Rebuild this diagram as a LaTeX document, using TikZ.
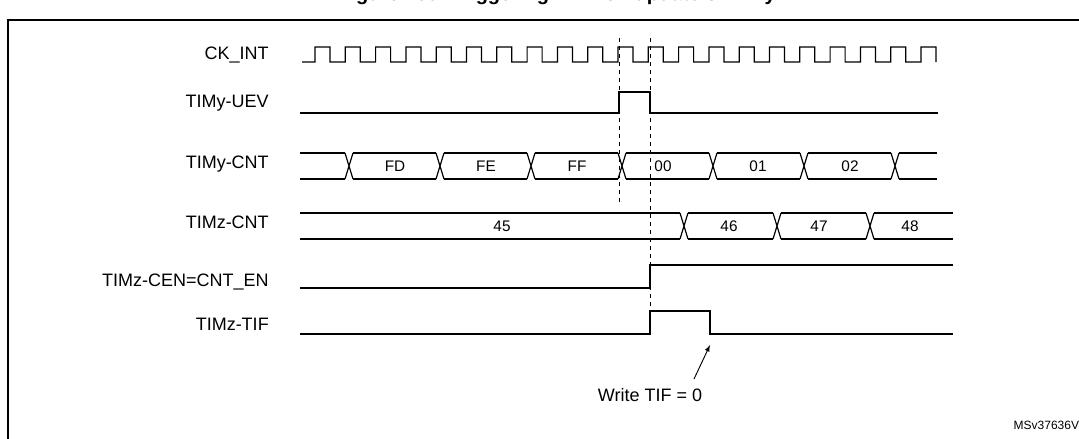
\documentclass[tikz,border=0pt]{standalone}
\usepackage{fontspec}
\setmainfont{Liberation Sans}
\usetikzlibrary{positioning}
\tikzset{
    signode/.style = {draw=none, fill=none, anchor=east, inner sep=0pt, font=\fontsize{13.5}{16}\selectfont},
    busnode/.style = {draw=none, fill=none, inner sep=0pt, font=\fontsize{11.5}{14}\selectfont},
    wave/.style = {black, line width=0.9pt},
    marker/.style = {black, dashed, line width=0.7pt},
    connect/.style = {black, line width=0.7pt, ->, >=latex}
}
\begin{document}
\begin{tikzpicture}[x=0.75pt, y=-0.75pt]
    \useasboundingbox (0,0) rectangle (1079,439);
    \node [name=title, anchor=base, inner sep=0pt, font=\bfseries\fontsize{15}{18}\selectfont] at (557,1)
        {Figure 150. Triggering TIMz on update of TIMy};
    \draw [line width=0.9pt] (8,20) rectangle (1095,460);

    \node [name=ck, signode] at (269,55) {CK\_INT};
    \node [name=uev, signode] at (269,103) {TIMy-UEV};
    \node [name=cnty, signode] at (269,164) {TIMy-CNT};
    \node [name=cntz, signode] at (269,222) {TIMz-CNT};
    \node [name=cen, signode] at (269,282) {TIMz-CEN=CNT\_EN};
    \node [name=tif, signode] at (269,324) {TIMz-TIF};

    % clock
    \draw [wave] (302,62) -- (315,62)
        \foreach \k in {0,...,19} {-- (315+30.3*\k,47) -- (330+30.3*\k,47) -- (330+30.3*\k,62) -- (345.3+30.3*\k,62)}
        -- (921,47) -- (936,47) -- (936,62);

    % update event
    \draw [wave] (300,113) -- (619,113) -- (619,92) -- (650,92) -- (650,113) -- (938,113);

    % TIMy counter
    \draw [wave] (300,153) -- (937,153) (300,179) -- (937,179);
    \foreach \c in {349,440,531,622,713,804,895} {
        \fill [white] (\c-4,150) rectangle (\c+4,182);
        \draw [wave] (\c-4,153) -- (\c+4,179) (\c-4,179) -- (\c+4,153);
    }
    \node [name=fd, busnode] at (395,166) {FD};
    \node [name=fe, busnode] at (486,166) {FE};
    \node [name=ff, busnode] at (577,166) {FF};
    \node [name=n00, busnode] at (663,166) {00};
    \node [name=n01, busnode] at (758,166) {01};
    \node [name=n02, busnode] at (850,166) {02};

    % TIMz counter
    \draw [wave] (300,213) -- (953,213) (300,239) -- (953,239);
    \foreach \c in {684,777,870} {
        \fill [white] (\c-4,210) rectangle (\c+4,242);
        \draw [wave] (\c-4,213) -- (\c+4,239) (\c-4,239) -- (\c+4,213);
    }
    \node [name=n45, busnode] at (502,226) {45};
    \node [name=n46, busnode] at (729,226) {46};
    \node [name=n47, busnode] at (819,226) {47};
    \node [name=n48, busnode] at (910,226) {48};

    % enable and flag
    \draw [wave] (300,288) -- (650,288) -- (650,265) -- (953,265);
    \draw [wave] (300,334) -- (650,334) -- (650,311) -- (710,311) -- (710,334) -- (953,334);

    \draw [marker] (619,38) -- (619,205);
    \draw [marker] (650,38) -- (650,311);

    \node [name=write, signode, anchor=center] at (650,395) {Write TIF = 0};
    \coordinate (clr) at (710,345);
    \draw [connect] (694,379) -- (clr);

    \node [name=ref, anchor=east, inner sep=0pt, font=\fontsize{9}{11}\selectfont] at (1086,425) {MSv37636V1};
\end{tikzpicture}
\end{document}
